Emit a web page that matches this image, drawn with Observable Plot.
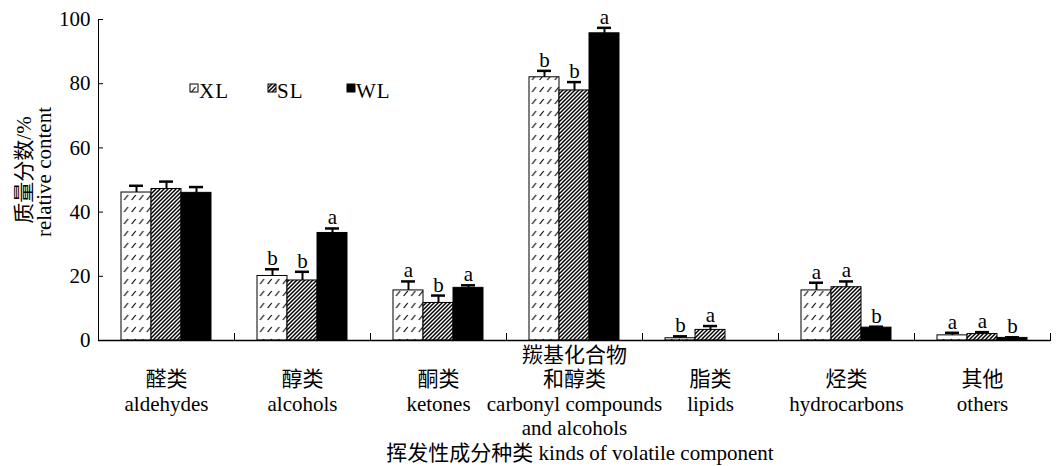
<!DOCTYPE html>
<html>
<head>
<meta charset="utf-8">
<script src="https://cdn.jsdelivr.net/npm/d3@7"></script>
<script src="https://cdn.jsdelivr.net/npm/@observablehq/plot@0.6"></script>
<style>
  html, body { margin: 0; padding: 0; background: #fff; }
  #chart { width: 1056px; height: 466px; }
</style>
</head>
<body>
<div id="chart"></div>
<script>
// ---- data ----
const categories = ["aldehydes", "alcohols", "ketones", "carbonyl", "lipids", "hydrocarbons", "others"];
const labelsZh = ["醛类", "醇类", "酮类", "羰基化合物\n和醇类", "脂类", "烃类", "其他"];
const labelsEn = ["aldehydes", "alcohols", "ketones", "carbonyl compounds\nand alcohols", "lipids", "hydrocarbons", "others"];
const series = ["XL", "SL", "WL"];
const valuesXL = [46.1, 20.1, 15.6, 82.0, 0.7, 15.6, 1.6];
const valuesSL = [47.2, 18.7, 11.7, 77.9, 3.3, 16.6, 2.0];
const valuesWL = [46.0, 33.5, 16.4, 95.7, 0.0, 4.0, 0.8];
const errXL = [2.1, 2.1, 2.8, 2.0, 0.6, 2.4, 0.8];
const errSL = [2.3, 2.7, 2.3, 2.6, 1.2, 1.8, 0.6];
const errWL = [1.8, 1.4, 0.8, 1.7, 0.0, 0.3, 0.2];
const lettersXL = ["", "b", "a", "b", "b", "a", "a"];
const lettersSL = ["", "b", "b", "b", "a", "a", "a"];
const lettersWL = ["", "a", "a", "a", "", "b", "b"];
const yTicks = [0, 20, 40, 60, 80, 100];
const yLabelZh = "质量分数/%";
const yLabelEn = "relative content";
const xTitle = "挥发性成分种类 kinds of volatile component";

// ---- table ----
const vals = {XL: valuesXL, SL: valuesSL, WL: valuesWL};
const errs = {XL: errXL, SL: errSL, WL: errWL};
const lets = {XL: lettersXL, SL: lettersSL, WL: lettersWL};
const rows = [];
categories.forEach((c, i) => series.forEach(s => rows.push({cat: c, s, v: vals[s][i], e: errs[s][i], l: lets[s][i]})));
const errRows = rows.filter(d => d.e > 0);
const barRows = rows.filter(d => d.v > 0);

const fontStack = "'Liberation Serif', 'Times New Roman', 'Noto Sans CJK SC', serif";
const fs = 21;

const svg = Plot.plot({
  width: 1056,
  height: 466,
  marginTop: 19,
  marginBottom: 126,
  marginLeft: 97,
  marginRight: 6,
  style: {fontFamily: fontStack, fontSize: fs + "px", color: "#000", background: "#fff", overflow: "visible"},
  fx: {domain: categories, padding: 0, label: null},
  x: {domain: series, paddingInner: 0, paddingOuter: 0.74, axis: null},
  y: {domain: [0, 100], axis: null},
  color: {domain: series, range: ["url(#pXL)", "url(#pSL)", "#000"]},
  marks: [
    Plot.barY(barRows, {fx: "cat", x: "s", y: "v", fill: "s", stroke: "#000", strokeWidth: 1}),
    Plot.ruleX(errRows, {fx: "cat", x: "s", y1: "v", y2: d => d.v + d.e, strokeWidth: 2}),
    Plot.tickY(errRows, {fx: "cat", x: "s", y: d => d.v + d.e, strokeWidth: 2.5, insetLeft: 8, insetRight: 8}),
    Plot.text(rows, {fx: "cat", x: "s", y: d => d.v + d.e, text: "l", lineAnchor: "bottom", dy: -4, fontSize: fs}),
    Plot.ruleY([0], {strokeWidth: 1.3}),
    Plot.frame({anchor: "left", insetTop: 314}),
    Plot.frame({anchor: "left", fx: categories[0]}),
    Plot.frame({anchor: "right", insetTop: 314, fx: categories[categories.length - 1]}),
    Plot.axisY({ticks: yTicks, tickSize: -5, tickPadding: 13, fontSize: fs, label: null}),
    Plot.axisFx({
      anchor: "bottom", tickSize: 0, tickPadding: 50, lineAnchor: "middle", lineHeight: 1.17,
      fontSize: fs, label: null,
      tickFormat: k => { const i = categories.indexOf(k); return labelsZh[i] + "\n" + labelsEn[i]; }
    })
  ]
});

const root = d3.select(svg);
const defs = root.insert("defs", ":first-child");
const pXL = defs.append("pattern").attr("id", "pXL").attr("patternUnits", "userSpaceOnUse")
  .attr("width", 7.6).attr("height", 12);
pXL.append("rect").attr("width", 7.6).attr("height", 12).attr("fill", "#fff");
pXL.append("path").attr("d", "M1.5,8 L5.5,3").attr("stroke", "#000").attr("stroke-width", 1.2);
const pSL = defs.append("pattern").attr("id", "pSL").attr("patternUnits", "userSpaceOnUse")
  .attr("width", 4).attr("height", 4);
pSL.append("rect").attr("width", 4).attr("height", 4).attr("fill", "#fff");
pSL.append("path").attr("d", "M-1,1 l2,-2 M0,4 l4,-4 M3,5 l2,-2").attr("stroke", "#000").attr("stroke-width", 1.5);

// legend
const legendX = [190, 268, 347];
const lg = root.append("g").attr("font-family", fontStack).attr("font-size", fs).attr("text-anchor", "start");
series.forEach((s, i) => {
  lg.append("rect").attr("x", legendX[i]).attr("y", 84).attr("width", 8).attr("height", 8)
    .attr("fill", ["url(#pXL)", "url(#pSL)", "#000"][i]).attr("stroke", "#000").attr("stroke-width", 1);
  lg.append("text").attr("x", legendX[i] + 9).attr("y", 98).attr("text-anchor", "start")
    .attr("letter-spacing", 1).text(s);
});

// y axis title
const yt = root.append("text").attr("transform", "rotate(-90)").attr("text-anchor", "middle")
  .attr("font-family", fontStack).attr("font-size", fs);
yt.append("tspan").attr("x", -170).attr("y", 31).text(yLabelZh);
yt.append("tspan").attr("x", -172).attr("y", 51).text(yLabelEn);

// x axis title
root.append("text").attr("x", 580).attr("y", 460).attr("text-anchor", "middle")
  .attr("font-family", fontStack).attr("font-size", fs).text(xTitle);

document.getElementById("chart").appendChild(svg);
</script>
</body>
</html>
